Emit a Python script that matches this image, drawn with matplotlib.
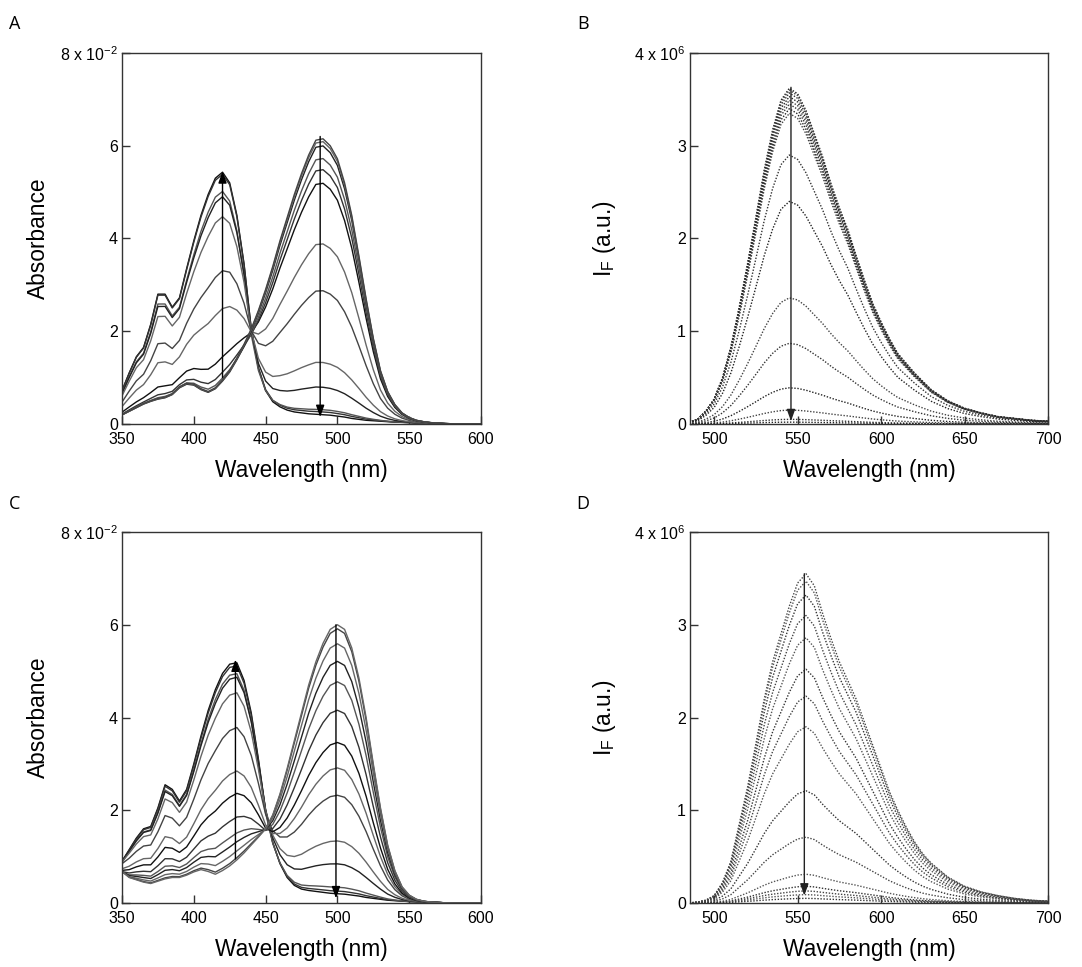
import numpy as np
import matplotlib
matplotlib.use("Agg")
import matplotlib.pyplot as plt

plt.rcParams["font.family"] = ["Liberation Sans", "DejaVu Sans"]
plt.rcParams["mathtext.default"] = "regular"

# absorption spectra, 350-600 nm every 5 nm (units of 1e-2)
abs_wl = np.arange(350, 601, 5)

a_final = [0.72, 1.1, 1.45, 1.65, 2.15, 2.8, 2.8, 2.52, 2.72, 3.35,
           3.95, 4.5, 4.95, 5.3, 5.43, 5.2, 4.5, 3.45, 2.05, 1.2,
           0.72, 0.48, 0.37, 0.3, 0.26, 0.24, 0.22, 0.21, 0.2, 0.19,
           0.17, 0.15, 0.12, 0.1, 0.08, 0.07, 0.06, 0.05, 0.04, 0.035,
           0.03, 0.02, 0.015, 0.01, 0.01, 0.005, 0.0, 0.0, 0.0, 0.0, 0.0]
a_start = [0.2, 0.28, 0.36, 0.44, 0.5, 0.55, 0.58, 0.65, 0.8, 0.88,
           0.86, 0.76, 0.7, 0.78, 0.95, 1.15, 1.42, 1.72, 2.05, 2.45,
           2.9, 3.4, 3.95, 4.45, 4.95, 5.4, 5.8, 6.12, 6.15, 6.0,
           5.72, 5.2, 4.5, 3.62, 2.7, 1.85, 1.15, 0.7, 0.42, 0.24,
           0.14, 0.08, 0.05, 0.03, 0.02, 0.01, 0.005, 0.0, 0.0, 0.0, 0.0]
# share of each end spectrum in every trace of the titration
a_w_final = [1.0, 0.99, 0.92, 0.885, 0.79, 0.53, 0.35, 0.12, 0.05, 0.02, 0.0, 0.0, 0.0]
a_w_start = [0.0, 0.01, 0.02, 0.10, 0.19, 0.45, 0.62, 0.84, 0.89, 0.93, 0.975, 0.99, 1.0]

c_final = [0.9, 1.15, 1.4, 1.6, 1.65, 2.05, 2.55, 2.45, 2.2, 2.45,
           3.0, 3.6, 4.15, 4.6, 4.95, 5.15, 5.18, 4.8, 4.1, 3.1,
           2.0, 1.3, 0.85, 0.55, 0.38, 0.3, 0.27, 0.25, 0.23, 0.21,
           0.2, 0.19, 0.17, 0.15, 0.12, 0.1, 0.08, 0.06, 0.05, 0.04,
           0.03, 0.025, 0.02, 0.015, 0.01, 0.005, 0.0, 0.0, 0.0, 0.0, 0.0]
c_start = [0.68, 0.55, 0.5, 0.45, 0.42, 0.47, 0.52, 0.55, 0.55, 0.6,
           0.67, 0.72, 0.68, 0.62, 0.7, 0.8, 0.93, 1.08, 1.25, 1.42,
           1.6, 1.9, 2.35, 2.9, 3.5, 4.1, 4.7, 5.2, 5.6, 5.9,
           6.0, 5.9, 5.5, 4.85, 4.0, 3.0, 2.05, 1.25, 0.7, 0.35,
           0.17, 0.08, 0.04, 0.02, 0.01, 0.005, 0.0, 0.0, 0.0, 0.0, 0.0]
c_w_final = [1.0, 0.985, 0.95, 0.92, 0.84, 0.665, 0.465, 0.355, 0.235, 0.15, 0.10, 0.05, 0.012, 0.0]
c_w_start = [0.0, 0.01, 0.025, 0.11, 0.195, 0.365, 0.47, 0.565, 0.685, 0.79, 0.865, 0.93, 0.985, 1.0]

# emission spectra (units of 1e6), brightest trace, then peak heights of all traces
b_wl = [485, 490, 495, 500, 505, 510, 515, 520, 525, 530, 535, 540, 545, 550,
        555, 560, 565, 570, 575, 580, 585, 590, 595, 600, 605, 610, 620, 630,
        640, 650, 660, 670, 680, 690, 700]
b_top = [0.02, 0.05, 0.14, 0.27, 0.5, 0.83, 1.26, 1.73, 2.23, 2.74, 3.17, 3.49, 3.62, 3.56,
         3.38, 3.13, 2.88, 2.59, 2.33, 2.1, 1.82, 1.55, 1.3, 1.1, 0.92, 0.76, 0.55, 0.37,
         0.25, 0.17, 0.12, 0.08, 0.06, 0.04, 0.03]
b_peaks = [3.62, 3.6, 3.57, 3.53, 3.49, 3.45, 3.4, 3.35, 2.9, 2.4, 1.36, 0.87, 0.39, 0.15, 0.05, 0.02]

d_wl = [485, 490, 495, 500, 505, 510, 515, 520, 525, 530, 535, 540, 545, 550,
        555, 560, 565, 570, 575, 580, 585, 590, 595, 600, 605, 610, 615, 620,
        625, 630, 640, 650, 660, 670, 680, 690, 700]
d_top = [0.0, 0.01, 0.03, 0.08, 0.22, 0.45, 0.85, 1.25, 1.72, 2.2, 2.6, 2.9, 3.2, 3.45,
         3.55, 3.42, 3.12, 2.85, 2.6, 2.4, 2.2, 1.95, 1.7, 1.45, 1.2, 1.0, 0.82, 0.66,
         0.53, 0.43, 0.28, 0.18, 0.12, 0.08, 0.05, 0.03, 0.02]
d_peaks = [3.55, 3.47, 3.32, 3.1, 2.86, 2.52, 2.23, 1.9, 1.21, 0.71, 0.31, 0.18, 0.13, 0.09, 0.05]

# arrows: (wavelength, from, to)
a_arrows = [(420, 1.0, 5.45), (488, 6.2, 0.15)]
b_arrows = [(546, 3.63, 0.03)]
c_arrows = [(429, 0.95, 5.25), (499, 6.0, 0.1)]
d_arrows = [(554, 3.55, 0.08)]

fig = plt.figure(figsize=(10.82, 9.67), dpi=100)
W, H = 1082, 967


def make_axes(left, top, right, bottom):
    return fig.add_axes([left / W, 1 - bottom / H, (right - left) / W, (bottom - top) / H])


ax_a = make_axes(122, 53, 481, 424)
ax_b = make_axes(690, 53, 1048, 424)
ax_c = make_axes(122, 532, 481, 903)
ax_d = make_axes(690, 532, 1048, 903)

abs_colors = ["#111111", "#333333", "#555555", "#222222", "#666666", "#444444", "#666666"]


def absorbance_panel(ax, final, start, w_final, w_start, arrows):
    final = np.array(final)
    start = np.array(start)
    for i, (wf, ws) in enumerate(zip(w_final, w_start)):
        ax.plot(abs_wl, wf * final + ws * start, color=abs_colors[i % len(abs_colors)], lw=1.0)
    for x, y0, y1 in arrows:
        ax.annotate("", xy=(x, y1), xytext=(x, y0),
                    arrowprops=dict(arrowstyle="-|>,head_length=0.7,head_width=0.25",
                                    color="black", lw=1.0, shrinkA=0, shrinkB=0))
    ax.set_xlim(350, 600)
    ax.set_ylim(0, 8)
    ax.set_xticks([350, 400, 450, 500, 550, 600])
    ax.set_yticks([0, 2, 4, 6, 8])
    ax.set_yticklabels(["0", "2", "4", "6", "8 x 10$^{-2}$"])
    ax.set_ylabel("Absorbance", fontsize=16.4)


def emission_panel(ax, wl, top, peaks, arrows, colors):
    top = np.array(top)
    for i, p in enumerate(peaks):
        ax.plot(wl, top * p / peaks[0], color=colors[i % len(colors)], lw=1.0,
                linestyle=(0, (1, 1.2)))
    for x, y0, y1 in arrows:
        ax.annotate("", xy=(x, y1), xytext=(x, y0),
                    arrowprops=dict(arrowstyle="-|>,head_length=0.7,head_width=0.25",
                                    color="#222222", lw=1.0, shrinkA=0, shrinkB=0))
    ax.set_xlim(485.5, 700)
    ax.set_ylim(0, 4)
    ax.set_xticks([500, 550, 600, 650, 700])
    ax.set_yticks([0, 1, 2, 3, 4])
    ax.set_yticklabels(["0", "1", "2", "3", "4 x 10$^{6}$"])
    ax.set_ylabel("I$_F$ (a.u.)", fontsize=16.4)


absorbance_panel(ax_a, a_final, a_start, a_w_final, a_w_start, a_arrows)
absorbance_panel(ax_c, c_final, c_start, c_w_final, c_w_start, c_arrows)
emission_panel(ax_b, b_wl, b_top, b_peaks, b_arrows, ["#222222", "#444444", "#333333"])
emission_panel(ax_d, d_wl, d_top, d_peaks, d_arrows, ["#444444", "#555555", "#333333"])

for ax in (ax_a, ax_b, ax_c, ax_d):
    ax.set_xlabel("Wavelength (nm)", fontsize=16.4)
    ax.xaxis.set_label_coords(0.5, -0.095)
    ax.yaxis.set_label_coords(-0.2, 0.5)
    ax.tick_params(direction="in", length=6, width=1, labelsize=11.5, color="#333333")
    ax.tick_params(axis="x", pad=6)
    ax.tick_params(axis="y", pad=3)
    for s in ax.spines.values():
        s.set_color("#333333")
        s.set_linewidth(1.0)

for label, x, y in [("A", 15, 24), ("B", 583, 24), ("C", 15, 504), ("D", 583, 504)]:
    fig.text(x / W, 1 - y / H, label, fontsize=13, family=["Open Sans", "DejaVu Sans"],
             ha="center", va="center")

fig.savefig("out.png", dpi=100)
